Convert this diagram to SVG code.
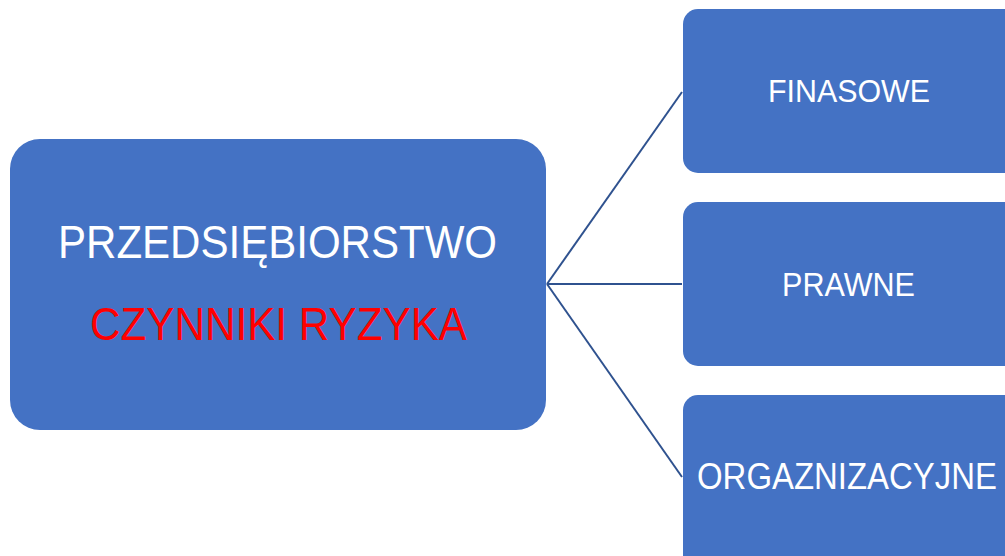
<svg xmlns="http://www.w3.org/2000/svg" width="1005" height="556" viewBox="0 0 1005 556">
  <style>
    .box { fill: #4472C4; }
    .lbl { font-family: "Liberation Sans", Arial, sans-serif; fill: #FFFFFF; }
    .red { fill: #FF0000; }
    .conn { stroke: #2F528F; stroke-width: 2; fill: none; }
  </style>
  <rect width="1005" height="556" fill="#FFFFFF"/>

  <g id="connectors">
    <line class="conn" x1="547" y1="284" x2="682" y2="92"/>
    <line class="conn" x1="547" y1="284" x2="682" y2="284"/>
    <line class="conn" x1="547" y1="284" x2="682" y2="477"/>
  </g>

  <g id="node-main">
    <rect class="box" x="10" y="139" width="536" height="291" rx="30" ry="30"/>
    <text class="lbl" x="58" y="258" font-size="46" textLength="439" lengthAdjust="spacingAndGlyphs">PRZEDSIĘBIORSTWO</text>
    <text class="lbl red" x="90" y="340" font-size="46" textLength="377" lengthAdjust="spacingAndGlyphs">CZYNNIKI RYZYKA</text>
  </g>

  <g id="node-finansowe">
    <rect class="box" x="683" y="9" width="340" height="164" rx="15" ry="15"/>
    <text class="lbl" x="768" y="102" font-size="32" textLength="162" lengthAdjust="spacingAndGlyphs">FINASOWE</text>
  </g>

  <g id="node-prawne">
    <rect class="box" x="683" y="202" width="340" height="164" rx="15" ry="15"/>
    <text class="lbl" x="782" y="296" font-size="33" textLength="133" lengthAdjust="spacingAndGlyphs">PRAWNE</text>
  </g>

  <g id="node-organizacyjne">
    <rect class="box" x="683" y="395" width="340" height="175" rx="15" ry="15"/>
    <text class="lbl" x="697" y="489" font-size="36" textLength="300" lengthAdjust="spacingAndGlyphs">ORGAZNIZACYJNE</text>
  </g>
</svg>
